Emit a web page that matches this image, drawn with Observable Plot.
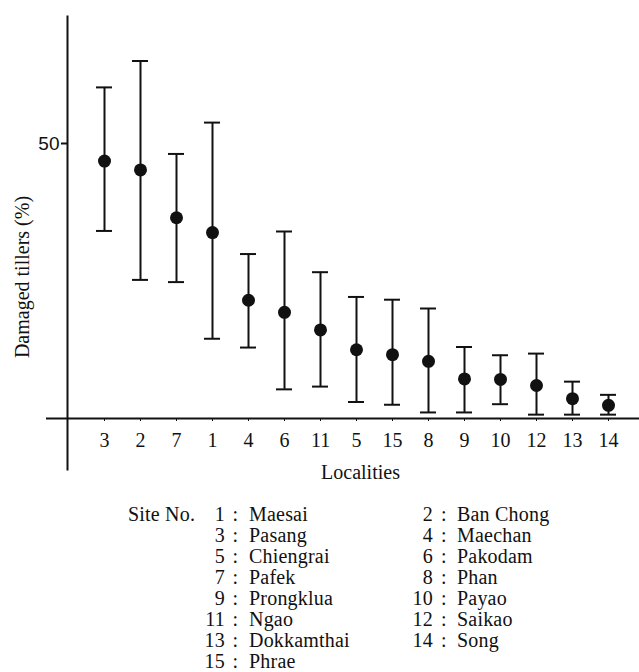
<!DOCTYPE html>
<html>
<head>
<meta charset="utf-8">
<script src="https://cdn.jsdelivr.net/npm/d3@7"></script>
<script src="https://cdn.jsdelivr.net/npm/@observablehq/plot@0.6"></script>
<style>
  html, body { margin: 0; padding: 0; background: #fff; }
  #wrap { position: relative; width: 639px; height: 672px; overflow: hidden; background: #fff; }
  #wrap svg { position: absolute; left: 0; top: 0; }
  .lg { position: absolute; font-family: "Liberation Serif", "Times New Roman", serif; font-size: 20px; line-height: 20px; color: #111; white-space: nowrap; letter-spacing: 0.2px; }
</style>
</head>
<body>
<div id="wrap"></div>
<script>
// ---- data ----
const sites = ["3","2","7","1","4","6","11","5","15","8","9","10","12","13","14"];
const means = [46.8, 45.2, 36.5, 33.8, 21.5, 19.3, 16.1, 12.5, 11.6, 10.4, 7.2, 7.1, 6.0, 3.6, 2.4];
const lows  = [34.1, 25.2, 24.8, 14.5, 12.9, 5.3, 5.8, 3.0, 2.5, 1.1, 1.1, 2.6, 0.7, 0.7, 0.7];
const highs = [60.2, 65.0, 48.1, 53.8, 29.9, 34.0, 26.6, 22.1, 21.6, 20.0, 13.0, 11.5, 11.8, 6.7, 4.3];
const yTicks = [50];
const xLabel = "Localities";
const yLabel = "Damaged tillers (%)";
const legendTitle = "Site No.";
const siteNumbers = [1,2,3,4,5,6,7,8,9,10,11,12,13,14,15];
const siteNames = ["Maesai","Ban Chong","Pasang","Maechan","Chiengrai","Pakodam","Pafek","Phan","Prongklua","Payao","Ngao","Saikao","Dokkamthai","Song","Phrae"];

const data = sites.map((s, i) => ({site: s, mean: means[i], lo: lows[i], hi: highs[i]}));

const ink = "#111";
const chart = Plot.plot({
  width: 639,
  height: 490,
  marginLeft: 67,
  marginRight: 0,
  marginTop: 16,
  marginBottom: 72,
  style: {fontFamily: "'Liberation Serif', 'Times New Roman', serif", fontSize: "20px", color: ink, background: "transparent"},
  x: {type: "band", domain: sites, paddingInner: 0.557, paddingOuter: 0.694, align: 0.558},
  y: {domain: [0, 73.09]},
  marks: [
    Plot.frame({anchor: "left", insetBottom: -51, strokeWidth: 2}),
    Plot.ruleY([0], {insetLeft: -21, strokeWidth: 2}),
    Plot.axisX({tickSize: 3, tickPadding: 11, fontSize: 20, label: null}),
    Plot.axisY(yTicks, {tickSize: 6, tickPadding: 2, fontSize: 19, fontFamily: "'Liberation Sans', sans-serif", label: null, strokeWidth: 2}),
    Plot.ruleX(data, {x: "site", y1: "lo", y2: "hi", strokeWidth: 2}),
    Plot.tickY(data, {x: "site", y: "hi", strokeWidth: 2}),
    Plot.tickY(data, {x: "site", y: "lo", strokeWidth: 2}),
    Plot.dot(data, {x: "site", y: "mean", r: 6.5, fill: "currentColor", stroke: null}),
    Plot.text([xLabel], {frameAnchor: "bottom", textAnchor: "middle", lineAnchor: "middle", dx: 7, dy: 54, fontSize: 20}),
    Plot.text([yLabel], {frameAnchor: "left", textAnchor: "middle", lineAnchor: "middle", rotate: -90, dx: -45, dy: 59.5, fontSize: 20})
  ]
});
const wrap = document.getElementById("wrap");
wrap.appendChild(chart);

// ---- legend (HTML below the chart) ----
function addSpan(text, left, baseline, alignRight) {
  const s = document.createElement("span");
  s.className = "lg";
  s.textContent = text;
  s.style.top = (baseline - 16.75) + "px";
  s.style.left = left + "px";
  if (alignRight) s.style.transform = "translateX(-100%)";
  wrap.appendChild(s);
}
const firstBaseline = 521, rowStep = 21.0;
addSpan(legendTitle, 128, firstBaseline, false);
const cols = [{num: 225, colon: 232.5, name: 249}, {num: 433, colon: 441, name: 457}];
siteNumbers.forEach((n, i) => {
  const c = cols[i % 2];
  const b = firstBaseline + rowStep * Math.floor(i / 2);
  addSpan(String(n), c.num, b, true);
  addSpan(":", c.colon, b, false);
  addSpan(siteNames[i], c.name, b, false);
});
</script>
</body>
</html>
